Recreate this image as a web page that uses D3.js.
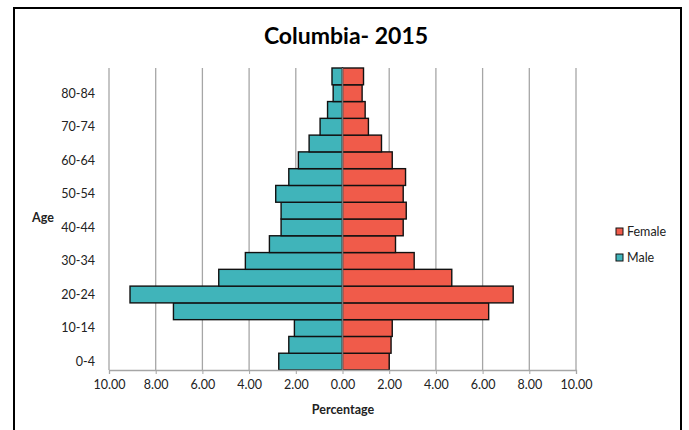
<!DOCTYPE html>
<html>
<head>
<meta charset="utf-8">
<script src="https://cdn.jsdelivr.net/npm/d3@7"></script>
<style>
  body { margin: 0; background: #fff; }
  text { font-family: Lato, "Open Sans", sans-serif; fill: #222; }
</style>
</head>
<body>
<div id="chart"></div>
<script>
// age groups, bottom to top
const ageGroups = ["0-4", "5-9", "10-14", "15-19", "20-24", "25-29", "30-34", "35-39", "40-44",
  "45-49", "50-54", "55-59", "60-64", "65-69", "70-74", "75-79", "80-84", "85+"];
// percentage of population
const male = [2.73, 2.30, 2.06, 7.24, 9.10, 5.30, 4.16, 3.13, 2.63,
  2.63, 2.86, 2.30, 1.89, 1.43, 0.96, 0.64, 0.40, 0.45];
const female = [2.00, 2.08, 2.13, 6.26, 7.31, 4.68, 3.07, 2.27, 2.60,
  2.73, 2.60, 2.70, 2.13, 1.67, 1.11, 0.97, 0.84, 0.90];
const xTicks = [-10, -8, -6, -4, -2, 0, 2, 4, 6, 8, 10];
const labelledAges = ["0-4", "10-14", "20-24", "30-34", "40-44", "50-54", "60-64", "70-74", "80-84"];

const width = 689, height = 430;
const maleColor = "#40b4ba", femaleColor = "#f05b4a";

const svg = d3.select("#chart").append("svg")
    .attr("width", width)
    .attr("height", height);

// outer frame
svg.append("rect")
    .attr("x", 14).attr("y", 8)
    .attr("width", 667).attr("height", 430)
    .attr("fill", "none")
    .attr("stroke", "#000")
    .attr("stroke-width", 2);

const x = d3.scaleLinear().domain([-10, 10]).range([109, 576]);
const y = d3.scaleBand().domain(ageGroups.slice().reverse()).range([68, 370]).padding(0);

// gridlines
svg.append("g").selectAll("line")
    .data(xTicks)
    .join("line")
    .attr("x1", d => x(d)).attr("x2", d => x(d))
    .attr("y1", 68).attr("y2", 370)
    .attr("stroke", "#a6a6a6")
    .attr("stroke-width", 1.3);

const rows = ageGroups.map((a, i) => ({ age: a, male: male[i], female: female[i] }));

// male bars
svg.append("g").selectAll("rect")
    .data(rows)
    .join("rect")
    .attr("x", d => x(-d.male))
    .attr("y", d => y(d.age))
    .attr("width", d => x(0) - x(-d.male))
    .attr("height", y.bandwidth())
    .attr("fill", maleColor)
    .attr("stroke", "#111")
    .attr("stroke-width", 1.4);

// female bars
svg.append("g").selectAll("rect")
    .data(rows)
    .join("rect")
    .attr("x", x(0))
    .attr("y", d => y(d.age))
    .attr("width", d => x(d.female) - x(0))
    .attr("height", y.bandwidth())
    .attr("fill", femaleColor)
    .attr("stroke", "#111")
    .attr("stroke-width", 1.4);

// zero line
svg.append("line")
    .attr("x1", x(0)).attr("x2", x(0))
    .attr("y1", 68).attr("y2", 370)
    .attr("stroke", "#777")
    .attr("stroke-width", 1.5);

// x axis
const xAxis = svg.append("g")
    .attr("transform", "translate(0,370)")
    .call(d3.axisBottom(x).tickValues(xTicks).tickSize(4).tickFormat(d => Math.abs(d).toFixed(2)));
xAxis.select(".domain").attr("stroke", "#a6a6a6").attr("stroke-width", 1.3);
xAxis.selectAll(".tick line").attr("stroke", "#a6a6a6");
xAxis.selectAll(".tick text")
    .attr("y", 10)
    .style("font-size", "12.5px")
    .style("fill", "#222");

// y labels
svg.append("g").selectAll("text")
    .data(labelledAges)
    .join("text")
    .attr("x", 95)
    .attr("y", d => y(d) + y.bandwidth() / 2)
    .attr("dy", "0.35em")
    .attr("text-anchor", "end")
    .style("font-size", "12.5px")
    .text(d => d);

// titles
svg.append("text")
    .attr("x", 346).attr("y", 44)
    .attr("text-anchor", "middle")
    .style("font-size", "23px")
    .style("font-weight", "bold")
    .style("fill", "#000")
    .text("Columbia- 2015");

svg.append("text")
    .attr("x", 343).attr("y", 414)
    .attr("text-anchor", "middle")
    .style("font-size", "12.5px")
    .style("font-weight", "bold")
    .text("Percentage");

svg.append("text")
    .attr("x", 32).attr("y", 222)
    .style("font-size", "12.5px")
    .style("font-weight", "bold")
    .text("Age");

// legend
const legend = [{ name: "Female", color: femaleColor }, { name: "Male", color: maleColor }];
const lg = svg.append("g").selectAll("g")
    .data(legend)
    .join("g")
    .attr("transform", (d, i) => `translate(616,${232 + i * 26})`);
lg.append("rect")
    .attr("x", 0).attr("y", -4)
    .attr("width", 7).attr("height", 7)
    .attr("fill", d => d.color)
    .attr("stroke", "#111")
    .attr("stroke-width", 1);
lg.append("text")
    .attr("x", 11).attr("y", 0)
    .attr("dy", "0.35em")
    .style("font-size", "12.5px")
    .text(d => d.name);
</script>
</body>
</html>
